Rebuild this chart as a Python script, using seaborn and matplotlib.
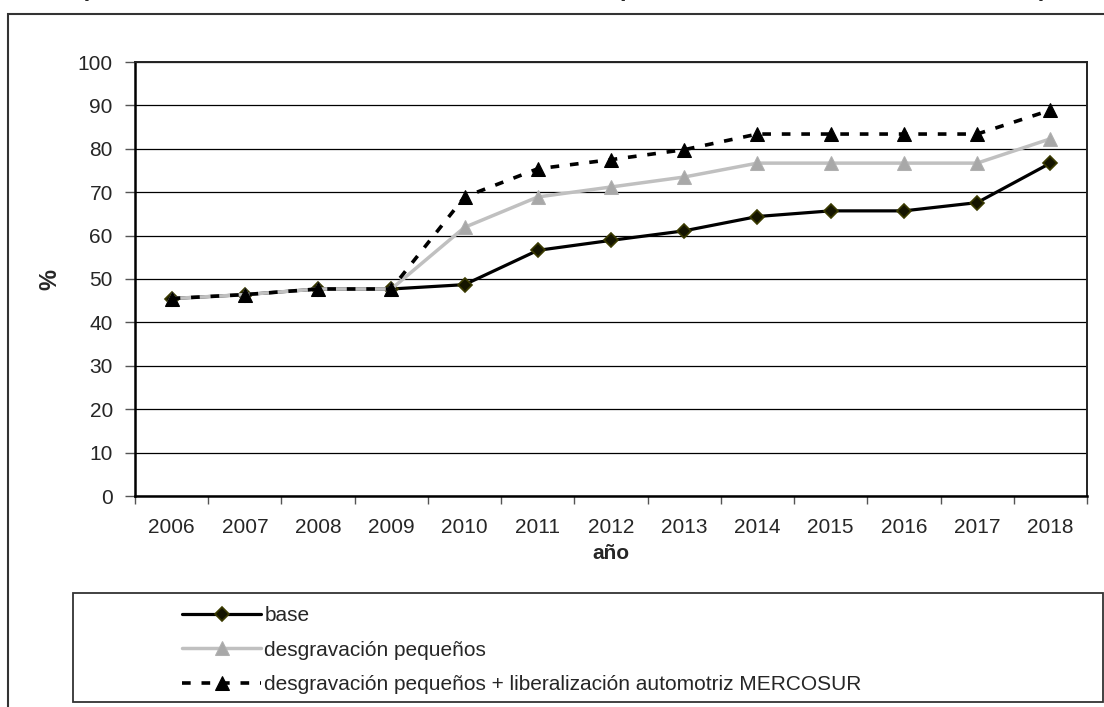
import numpy as np
import pandas as pd
import matplotlib
matplotlib.use("Agg")
import matplotlib.pyplot as plt
from matplotlib.patches import Rectangle
import seaborn as sns

# Data ------------------------------------------------------------------------
years = ["2006", "2007", "2008", "2009", "2010", "2011", "2012",
         "2013", "2014", "2015", "2016", "2017", "2018"]
base = [45.5, 46.4, 47.7, 47.7, 48.7, 56.6, 58.9, 61.1, 64.4, 65.7, 65.7, 67.6, 76.7]
desgravacion = [45.5, 46.4, 47.7, 47.7, 61.9, 68.9, 71.2, 73.5, 76.7, 76.7, 76.7, 76.7, 82.3]
mercosur = [45.5, 46.4, 47.7, 47.7, 68.9, 75.4, 77.5, 79.8, 83.4, 83.4, 83.4, 83.4, 88.9]
labels = ["base", "desgravación pequeños",
          "desgravación pequeños + liberalización automotriz MERCOSUR"]

# Figure ----------------------------------------------------------------------
sns.set_style("white")
plt.rcParams['font.family'] = ['Liberation Sans', 'DejaVu Sans']
fs = 15

W, H = 1104, 707
fig = plt.figure(figsize=(W / 100, H / 100), dpi=100)
ax = fig.add_axes([135 / W, 1 - 496 / H, (1087 - 135) / W, (496 - 62) / H])

xpos = np.arange(len(years))
df = pd.DataFrame({"x": xpos, "base": base, "desg": desgravacion, "merc": mercosur})

sns.lineplot(data=df, x="x", y="base", ax=ax, color="black", lw=2.3,
             marker="D", ms=7, mfc="#151500", mec="#3a3a00", mew=1.2,
             label=labels[0], zorder=3)
sns.lineplot(data=df, x="x", y="desg", ax=ax, color="#c0c0c0", lw=2.5,
             marker="^", ms=10, mfc="#a8a8a8", mec="#b0b0b0",
             label=labels[1], zorder=4)
sns.lineplot(data=df, x="x", y="merc", ax=ax, color="black", lw=2.6,
             marker="^", ms=10, mfc="black", mec="black", dashes=False,
             label=labels[2], zorder=5)
ax.lines[-1].set_dashes((2.4, 3.0))

# Axes ------------------------------------------------------------------------
ax.set_xlim(-0.5, len(years) - 0.5)
ax.set_ylim(0, 100)
ax.set_yticks(np.arange(0, 101, 10))
ax.set_xticks(xpos)
ax.set_xticklabels(years)
ax.set_xticks(np.arange(-0.5, len(years), 1), minor=True)
ax.tick_params(axis="x", which="major", length=0, pad=16, labelsize=fs)
ax.tick_params(axis="x", which="minor", length=6, width=1, color="#555555",
               direction="out", bottom=True)
ax.tick_params(axis="y", length=7, width=1, color="#555555", direction="out",
               left=True, pad=9, labelsize=fs)
ax.yaxis.grid(True, color="black", lw=0.9)
ax.set_axisbelow(True)
for side in ["left", "bottom"]:
    ax.spines[side].set_color("black")
    ax.spines[side].set_linewidth(1.8)
for side in ["top", "right"]:
    ax.spines[side].set_color("#222222")
    ax.spines[side].set_linewidth(1.4)

ax.set_xlabel("año", fontsize=fs, fontweight="bold", labelpad=5)
ax.set_ylabel("%", fontsize=fs + 2, fontweight="bold", labelpad=12)

# Legend ----------------------------------------------------------------------
fig.patches.append(Rectangle((73 / W, 1 - 702 / H), (1103 - 73) / W, 109 / H,
                             transform=fig.transFigure, fill=False,
                             edgecolor="#333333", lw=1.3))
ax.legend(loc="upper left", bbox_to_anchor=(182 / W, 1 - 606 / H),
          bbox_transform=fig.transFigure, frameon=False, fontsize=fs,
          handlelength=3.8, handletextpad=0.15, labelspacing=0.75,
          borderpad=0, borderaxespad=0)

# Outer frame and cropped title fragments ----------------------------------
fig.patches.append(Rectangle((8 / W, -0.05), 1.2, 1.05 - 14 / H,
                             transform=fig.transFigure, fill=False,
                             edgecolor="#333333", lw=1.5))
for gx, ch in [(85, "("), (627, "p"), (1043, ")")]:
    fig.text(gx / W, 1 + 4 / H, ch, fontsize=17, fontweight="bold",
             ha="center", va="baseline")

fig.savefig("out.png", dpi=100)
